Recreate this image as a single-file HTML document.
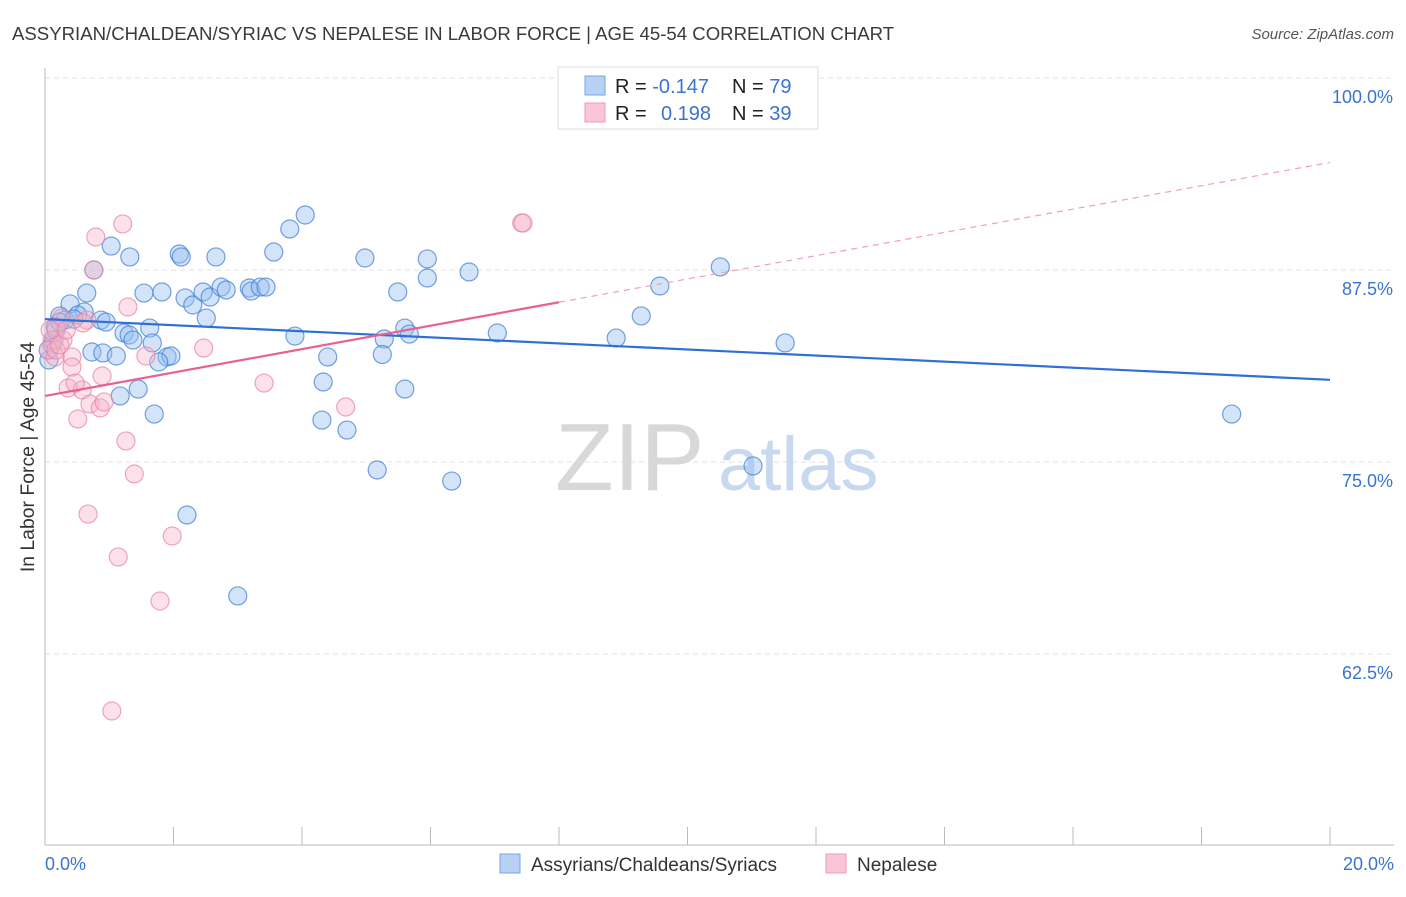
<!DOCTYPE html>
<html><head><meta charset="utf-8">
<style>
body{margin:0;background:#fff;font-family:"Liberation Sans",sans-serif;}
svg text{font-family:"Liberation Sans",sans-serif;}
</style></head>
<body>
<svg id="chart" width="1406" height="892" viewBox="0 0 1406 892" xmlns="http://www.w3.org/2000/svg">
<text x="12" y="40" font-size="18.6" fill="#3a3a3a">ASSYRIAN/CHALDEAN/SYRIAC VS NEPALESE IN LABOR FORCE | AGE 45-54 CORRELATION CHART</text>
<text x="1394" y="39" font-size="15" fill="#555" text-anchor="end" font-style="italic">Source: ZipAtlas.com</text>
<g id="grid"></g>
<g>
<text x="555" y="490" font-size="96" fill="#d8d8d8" font-family="Liberation Serif, serif">ZIP</text>
<text x="718" y="490" font-size="76" fill="#c8d8f0">atlas</text>
</g>
<g id="points"></g>
<g id="trends"></g>
<text transform="translate(34,457) rotate(-90)" font-size="19.4" fill="#333" text-anchor="middle">In Labor Force | Age 45-54</text>
<g>
<rect x="558" y="67" width="260" height="62" fill="#fff" stroke="#ddd"/>
<rect x="585" y="76" width="20" height="19" fill="#b7d0f4" stroke="#7aa6e6"/>
<rect x="585" y="103" width="20" height="19" fill="#fac6d6" stroke="#ef9ab4"/>
<text x="615" y="93" font-size="20" fill="#222">R = <tspan fill="#3a73d0">-0.147</tspan></text>
<text x="732" y="93" font-size="20" fill="#222">N = <tspan fill="#3a73d0">79</tspan></text>
<text x="615" y="120" font-size="20" fill="#222">R = <tspan fill="#3a73d0" x="661">0.198</tspan></text>
<text x="732" y="120" font-size="20" fill="#222">N = <tspan fill="#3a73d0">39</tspan></text>
</g>
<g>
<rect x="500" y="854" width="20" height="19" fill="#b7d0f4" stroke="#7aa6e6"/>
<text x="531" y="871" font-size="19" fill="#333">Assyrians/Chaldeans/Syriacs</text>
<rect x="826" y="854" width="20" height="19" fill="#fac6d6" stroke="#ef9ab4"/>
<text x="857" y="871" font-size="19" fill="#333">Nepalese</text>
</g>
</svg>
<script>
const xTicks=[0,2,4,6,8,10,12,14,16,18,20];
const yTicks=[100,87.5,75,62.5];
const yTickLabels=["100.0%","87.5%","75.0%","62.5%"];
const xEndLabels=["0.0%","20.0%"];
const blueX=[4.05,3.81,1.03,2.09,2.12,1.32,2.66,3.56,4.98,5.95,6.60,5.95,10.51,9.57,0.76,0.65,1.54,1.82,2.18,2.30,2.46,2.57,2.74,2.82,3.18,3.21,3.35,3.44,5.49,0.39,0.61,0.23,0.31,0.87,0.95,0.16,1.63,1.23,1.31,1.37,1.67,2.51,3.89,5.28,5.60,5.67,7.04,8.89,9.28,11.52,0.73,0.90,1.11,1.90,1.96,1.77,4.40,5.25,0.11,0.06,0.14,1.45,1.17,4.33,5.60,1.70,4.31,4.70,5.17,6.33,11.02,18.47,2.21,3.00,0.17,0.05,0.23,0.51,0.45];
const blueY=[91.08,90.17,89.06,88.54,88.35,88.35,88.35,88.67,88.28,88.22,87.37,86.98,87.70,86.46,87.5,86.0,86.0,86.07,85.68,85.22,86.07,85.74,86.39,86.2,86.33,86.13,86.39,86.39,86.07,85.29,84.77,84.51,84.24,84.24,84.11,83.79,83.72,83.4,83.27,82.94,82.75,84.37,83.2,83.01,83.72,83.33,83.4,83.07,84.51,82.75,82.16,82.1,81.9,81.84,81.9,81.51,81.84,82.0,82.62,81.64,82.94,79.75,79.3,80.21,79.75,78.12,77.73,77.08,74.48,73.76,74.74,78.12,71.55,66.28,83.59,82.29,84.11,84.57,84.3];
const pinkX=[1.21,0.79,7.42,7.44,0.76,1.29,0.65,0.26,0.17,0.11,0.28,0.05,0.16,0.42,0.42,0.89,0.36,0.58,0.47,3.41,0.70,0.86,0.92,4.68,0.51,1.26,1.39,2.47,1.57,0.67,1.98,1.14,1.79,1.04,0.17,0.08,0.59,0.23,0.33];
const pinkY=[90.5,89.65,90.56,90.56,87.5,85.09,84.24,84.37,83.79,82.94,82.94,82.29,81.84,81.84,81.18,80.6,79.82,79.69,80.14,80.14,78.78,78.52,78.91,78.58,77.8,76.37,74.22,82.42,81.9,71.61,70.18,68.82,65.95,58.79,82.29,83.59,84.05,82.62,83.59];
const blueTrendX=[0,20], blueTrendY=[84.3,80.35];
const pinkTrendX=[0,8,20], pinkTrendY=[79.3,85.4,94.5];

const NS="http://www.w3.org/2000/svg";
const X0=45,X1=1330,Y100=78,PXPER=15.36;
const sx=v=>X0+(v/20)*(X1-X0);
const sy=v=>Y100+(100-v)*PXPER;
function mk(tag,attrs,parent){const e=document.createElementNS(NS,tag);for(const k in attrs)e.setAttribute(k,attrs[k]);parent.appendChild(e);return e;}
const grid=document.getElementById('grid');
yTicks.forEach((t,i)=>{
  const l=mk('line',{x1:X0,x2:1394,y1:sy(t),y2:sy(t),stroke:'#e2e2e2','stroke-dasharray':'5,4'},grid);
  
  
  const tx=mk('text',{x:1393,y:sy(t)+25,'font-size':18,fill:'#3a73d0','text-anchor':'end'},grid);
  tx.textContent=yTickLabels[i];
  
  
});
const ax=mk('line',{x1:X0,x2:X0,y1:68,y2:845,stroke:'#bbb'},grid);


const bx=mk('line',{x1:X0,x2:1394,y1:845,y2:845,stroke:'#bbb'},grid);


xTicks.forEach(t=>{
  const l=mk('line',{x1:sx(t),x2:sx(t),y1:827,y2:845,stroke:'#bbb'},grid);
  
  
});
const xl0=mk('text',{x:45,y:870,'font-size':18,fill:'#3a73d0'},grid);xl0.textContent=xEndLabels[0];


const xl1=mk('text',{x:1394,y:870,'font-size':18,fill:'#3a73d0','text-anchor':'end'},grid);xl1.textContent=xEndLabels[1];


const pts=document.getElementById('points');
blueX.forEach((v,i)=>{
  const c=mk('circle',{cx:sx(v),cy:sy(blueY[i]),r:9,fill:'rgba(150,190,240,0.42)',stroke:'rgba(70,130,215,0.75)','stroke-width':1.2},pts);
  
  
});
pinkX.forEach((v,i)=>{
  const c=mk('circle',{cx:sx(v),cy:sy(pinkY[i]),r:9,fill:'rgba(248,180,200,0.4)',stroke:'rgba(232,130,165,0.7)','stroke-width':1.2},pts);
  
  
});
const tr=document.getElementById('trends');
const bl=mk('line',{x1:sx(blueTrendX[0]),y1:sy(blueTrendY[0]),x2:sx(blueTrendX[1]),y2:sy(blueTrendY[1]),stroke:'#2f6fd6','stroke-width':2.2},tr);


const pl=mk('line',{x1:sx(pinkTrendX[0]),y1:sy(pinkTrendY[0]),x2:sx(pinkTrendX[1]),y2:sy(pinkTrendY[1]),stroke:'#e8628f','stroke-width':2.2},tr);


const pd=mk('line',{x1:sx(pinkTrendX[1]),y1:sy(pinkTrendY[1]),x2:sx(pinkTrendX[2]),y2:sy(pinkTrendY[2]),stroke:'#eea0b8','stroke-width':1.2,'stroke-dasharray':'6,5'},tr);


</script>
</body></html>
